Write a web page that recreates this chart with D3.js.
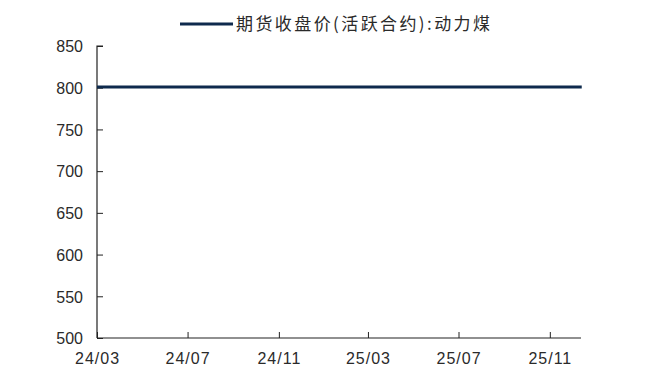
<!DOCTYPE html>
<html><head><meta charset="utf-8">
<script src="https://cdn.jsdelivr.net/npm/d3@7"></script>
<style>
body{margin:0;background:#fff;}
svg{display:block;}
text{font-family:"Liberation Sans",Arial,sans-serif;fill:#2a2a2a;}
</style></head>
<body>
<svg id="chart" width="646" height="368"></svg>
<script>
const seriesName = "期货收盘价(活跃合约):动力煤";
const dates = ["2024-03-01","2024-04-01","2024-05-01","2024-06-01","2024-07-01","2024-08-01","2024-09-01","2024-10-01","2024-11-01","2024-12-01","2025-01-01","2025-02-01","2025-03-01","2025-04-01","2025-05-01","2025-06-01","2025-07-01","2025-08-01","2025-09-01","2025-10-01","2025-11-01","2025-12-01","2025-12-14"];
const values = [801,801,801,801,801,801,801,801,801,801,801,801,801,801,801,801,801,801,801,801,801,801,801];
const yTicks = [500,550,600,650,700,750,800,850];
const xTickDates = ["2024-03-01","2024-07-01","2024-11-01","2025-03-01","2025-07-01","2025-11-01"];

const parse = d3.timeParse("%Y-%m-%d");
const data = dates.map((d,i)=>({date:parse(d), value:values[i]}));
const svg = d3.select("#chart");
const m = {left:97, top:46, right:65, bottom:30};
const W = 646, H = 368;

const x = d3.scaleTime().domain([parse("2024-03-01"), parse("2025-12-13")]).range([m.left, W-m.right]);
const y = d3.scaleLinear().domain([500,850]).range([H-m.bottom, m.top]);

// y axis
const yAxis = svg.append("g").attr("transform",`translate(${m.left},0)`)
  .call(d3.axisRight(y).tickValues(yTicks).tickSize(6).tickFormat(d3.format("d")));
yAxis.select(".domain").attr("stroke","#222").attr("stroke-width",1.2).attr("d",`M6,${y(850)}H0V${y(500)}`);
yAxis.selectAll(".tick line").attr("stroke","#222");
yAxis.selectAll(".tick text").attr("x",-14).attr("text-anchor","end").attr("font-size",16).attr("dy","0.36em");

// x axis
const xAxis = svg.append("g").attr("transform",`translate(0,${H-m.bottom})`)
  .call(d3.axisTop(x).tickValues(xTickDates.map(parse)).tickSize(6).tickFormat(d3.timeFormat("%y/%m")));
xAxis.select(".domain").attr("stroke","#222").attr("stroke-width",1.2).attr("d",`M${m.left},0H${W-m.right}`);
xAxis.selectAll(".tick line").attr("stroke","#222");
xAxis.selectAll(".tick text").attr("y",26).attr("dy","0").attr("font-size",16)
  .attr("letter-spacing","1px").attr("text-anchor","middle");

// line
svg.append("path").datum(data)
  .attr("fill","none").attr("stroke","#0e2a4d").attr("stroke-width",3)
  .attr("d", d3.line().x(d=>x(d.date)).y(d=>y(d.value)));

// legend
const lg = svg.append("g");
lg.append("line").attr("x1",180).attr("x2",233).attr("y1",24).attr("y2",24)
  .attr("stroke","#0e2a4d").attr("stroke-width",3);
lg.append("text").attr("x",236).attr("y",30).attr("font-size",17)
  .attr("textLength",254).attr("lengthAdjust","spacing")
  .style("font-family",'"Noto Sans CJK SC",sans-serif').text(seriesName);
</script>
</body></html>
